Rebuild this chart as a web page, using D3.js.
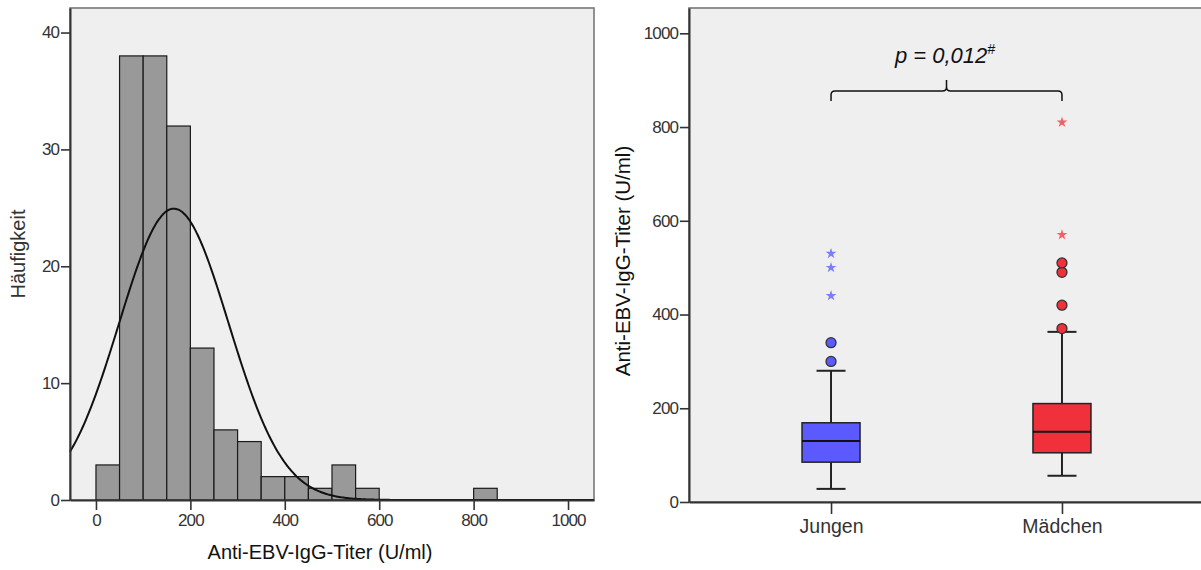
<!DOCTYPE html>
<html>
<head>
<meta charset="utf-8">
<script src="https://cdn.jsdelivr.net/npm/d3@7"></script>
<style>
  body { margin: 0; background: #fff; }
  svg { display: block; font-family: "Liberation Sans", Arial, sans-serif; }
  .tick text { fill: #333; font-size: 17px; letter-spacing: -0.9px; }
  .tick line { stroke: #333; stroke-width: 1.6; }
</style>
</head>
<body>
<div id="chart"></div>
<script>
// histogram (left)
const binStarts = [0, 50, 100, 150, 200, 250, 300, 350, 400, 450, 500, 550, 800];
const binCounts = [3, 38, 38, 32, 13, 6, 5, 2, 2, 1, 3, 1, 1];
const binWidth = 50;
const histXTicks = [0, 200, 400, 600, 800, 1000];
const histYTicks = [0, 10, 20, 30, 40];
// fitted normal curve parameters
const fitMean = 165;
const fitSd = 116;

// boxplot (right)
const groups = ['Jungen', 'Mädchen'];
const q1 = [85, 105];
const median = [130, 150];
const q3 = [169, 210];
const whiskerLow = [28, 56];
const whiskerHigh = [280, 363];
const outliers = [[300, 340], [370, 420, 490, 510]];
const extremes = [[440, 500, 530], [570, 810]];
const boxYTicks = [0, 200, 400, 600, 800, 1000];
const fillColors = ['#5a5aff', '#f0303a'];
const starColors = ['#7c7cff', '#f2606a'];

const W = 1201, H = 570;
const svg = d3.select('#chart').append('svg')
    .attr('width', W)
    .attr('height', H);

// ---------- left panel ----------
const hx = d3.scaleLinear().domain([-55, 1055]).range([70, 594]);
const hy = d3.scaleLinear().domain([0, 42.1]).range([500, 8]);

const left = svg.append('g');
left.append('rect')
    .attr('x', 70).attr('y', 8)
    .attr('width', 594 - 70).attr('height', 500 - 8)
    .attr('fill', '#efefef')
    .attr('stroke', '#777').attr('stroke-width', 1.6);

left.selectAll('rect.bar')
    .data(binStarts.map((s, i) => ({ s: s, c: binCounts[i] })))
    .enter().append('rect')
    .attr('class', 'bar')
    .attr('x', d => hx(d.s))
    .attr('y', d => hy(d.c))
    .attr('width', d => hx(d.s + binWidth) - hx(d.s))
    .attr('height', d => hy(0) - hy(d.c))
    .attr('fill', '#999')
    .attr('stroke', '#1a1a1a')
    .attr('stroke-width', 1.2);

const N = d3.sum(binCounts);
const curvePts = d3.range(-55, 1056, 3).map(v => {
    const z = (v - fitMean) / fitSd;
    return [v, N * binWidth * Math.exp(-0.5 * z * z) / (fitSd * Math.sqrt(2 * Math.PI))];
});
left.append('path')
    .datum(curvePts)
    .attr('fill', 'none')
    .attr('stroke', '#111')
    .attr('stroke-width', 2)
    .attr('d', d3.line().x(d => hx(d[0])).y(d => hy(d[1])).curve(d3.curveBasis));

left.append('g')
    .attr('transform', 'translate(0,500)')
    .call(d3.axisBottom(hx).tickValues(histXTicks).tickFormat(d3.format('d'))
        .tickSize(10).tickSizeOuter(0).tickPadding(4))
    .call(g => g.select('.domain').attr('stroke', '#333').attr('stroke-width', 2));
left.append('g')
    .attr('transform', 'translate(70,0)')
    .call(d3.axisLeft(hy).tickValues(histYTicks).tickSize(9).tickSizeOuter(0).tickPadding(2))
    .call(g => g.select('.domain').attr('stroke', '#333').attr('stroke-width', 2));

left.append('text')
    .attr('x', 320).attr('y', 559)
    .attr('text-anchor', 'middle')
    .attr('font-size', 20)
    .attr('fill', '#111')
    .text('Anti-EBV-IgG-Titer (U/ml)');
left.append('text')
    .attr('transform', 'translate(25,254) rotate(-90)')
    .attr('text-anchor', 'middle')
    .attr('font-size', 20)
    .attr('fill', '#333')
    .text('Häufigkeit');

// ---------- right panel ----------
const bx = d3.scalePoint().domain(groups).range([689, 1204]).padding(0.615);
const by = d3.scaleLinear().domain([0, 1054]).range([502, 8]);
const boxHalf = 29, capHalf = 14.5;

const right = svg.append('g');
right.append('rect')
    .attr('x', 689).attr('y', 8)
    .attr('width', 1204 - 689).attr('height', 502 - 8)
    .attr('fill', '#efefef')
    .attr('stroke', '#777').attr('stroke-width', 1.6);

const box = right.selectAll('g.box')
    .data(groups.map((g, i) => ({ g: g, i: i })))
    .enter().append('g')
    .attr('class', 'box')
    .attr('transform', d => 'translate(' + bx(d.g) + ',0)');

// whiskers
box.append('line')
    .attr('x1', 0).attr('x2', 0)
    .attr('y1', d => by(whiskerLow[d.i])).attr('y2', d => by(whiskerHigh[d.i]))
    .attr('stroke', '#222').attr('stroke-width', 2);
box.append('line')
    .attr('x1', -capHalf).attr('x2', capHalf)
    .attr('y1', d => by(whiskerLow[d.i])).attr('y2', d => by(whiskerLow[d.i]))
    .attr('stroke', '#222').attr('stroke-width', 2);
box.append('line')
    .attr('x1', -capHalf).attr('x2', capHalf)
    .attr('y1', d => by(whiskerHigh[d.i])).attr('y2', d => by(whiskerHigh[d.i]))
    .attr('stroke', '#222').attr('stroke-width', 2);
box.append('rect')
    .attr('x', -boxHalf).attr('width', 2 * boxHalf)
    .attr('y', d => by(q3[d.i]))
    .attr('height', d => by(q1[d.i]) - by(q3[d.i]))
    .attr('fill', d => fillColors[d.i])
    .attr('stroke', '#222').attr('stroke-width', 1.5);
box.append('line')
    .attr('x1', -boxHalf).attr('x2', boxHalf)
    .attr('y1', d => by(median[d.i])).attr('y2', d => by(median[d.i]))
    .attr('stroke', '#111').attr('stroke-width', 2);

box.selectAll('circle')
    .data(d => outliers[d.i].map(v => ({ v: v, i: d.i })))
    .enter().append('circle')
    .attr('cx', 0).attr('cy', d => by(d.v)).attr('r', 5)
    .attr('fill', d => fillColors[d.i])
    .attr('stroke', '#333').attr('stroke-width', 1.3);

box.selectAll('path.star')
    .data(d => extremes[d.i].map(v => ({ v: v, i: d.i })))
    .enter().append('path')
    .attr('class', 'star')
    .attr('transform', d => 'translate(0,' + by(d.v) + ')')
    .attr('d', d3.symbol().type(d3.symbolStar).size(36))
    .attr('fill', d => starColors[d.i]);

right.append('g')
    .attr('transform', 'translate(0,502)')
    .call(d3.axisBottom(bx).tickSize(12).tickSizeOuter(0).tickPadding(5))
    .call(g => g.select('.domain').attr('stroke', '#333').attr('stroke-width', 2))
    .call(g => g.selectAll('.tick text').style('font-size', '19.5px').style('letter-spacing', '0px'));
right.append('g')
    .attr('transform', 'translate(689,0)')
    .call(d3.axisLeft(by).tickValues(boxYTicks).tickFormat(d3.format('d'))
        .tickSize(9).tickSizeOuter(0).tickPadding(2))
    .call(g => g.select('.domain').attr('stroke', '#333').attr('stroke-width', 2));

right.append('text')
    .attr('transform', 'translate(630,261) rotate(-90)')
    .attr('text-anchor', 'middle')
    .attr('font-size', 20.5)
    .attr('fill', '#111')
    .text('Anti-EBV-IgG-Titer (U/ml)');

// significance bracket
const bl = bx(groups[0]), br = bx(groups[1]), bm = (bl + br) / 2;
const yb = 91, yd = 101, r = 4;
right.append('path')
    .attr('fill', 'none')
    .attr('stroke', '#111')
    .attr('stroke-width', 1.5)
    .attr('d', 'M' + bl + ',' + yd + ' L' + bl + ',' + (yb + r) + ' Q' + bl + ',' + yb + ' ' + (bl + r) + ',' + yb +
        ' L' + (bm - r) + ',' + yb + ' Q' + bm + ',' + yb + ' ' + bm + ',' + (yb - r) + ' L' + bm + ',' + 80 +
        ' M' + bm + ',' + (yb - r) + ' Q' + bm + ',' + yb + ' ' + (bm + r) + ',' + yb +
        ' L' + (br - r) + ',' + yb + ' Q' + br + ',' + yb + ' ' + br + ',' + (yb + r) + ' L' + br + ',' + yd);

const pt = right.append('text')
    .attr('x', 945).attr('y', 63)
    .attr('text-anchor', 'middle')
    .attr('font-size', 22)
    .attr('font-style', 'italic')
    .attr('fill', '#111');
pt.append('tspan').text('p = 0,012');
pt.append('tspan').attr('dy', -9).attr('font-size', 14).text('#');
</script>
</body>
</html>
